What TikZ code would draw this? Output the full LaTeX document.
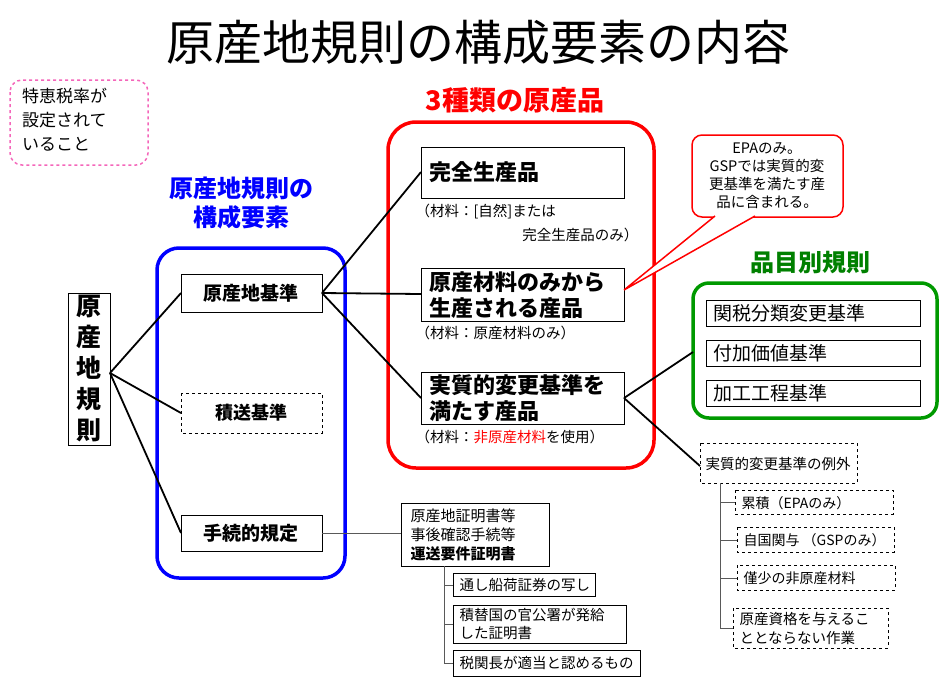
\documentclass[tikz,border=0pt]{standalone}
\usepackage{fontspec}
\setmainfont{Noto Sans CJK JP}
\begin{document}
\begin{tikzpicture}[x=1pt,y=-1pt,
  box/.style={draw,line width=1pt,inner sep=3pt},
  dbox/.style={draw,dashed,line width=0.8pt},
  ln/.style={line width=1.8pt},
  gl/.style={line width=1pt,gray!70!black},
  fs/.style={font=\fontsize{#1}{#1}\selectfont},
  fb/.style={font=\bfseries\fontsize{#1}{#1}\selectfont}]
\useasboundingbox (0,0) rectangle (952,683);
\node[fs=48] (title) at (478,42) {原産地規則の構成要素の内容};
% pink
\draw[magenta!60,dashed,line width=1.5pt,rounded corners=12pt] (10,80) rectangle (148,165);
\node[align=left,anchor=north west,inner sep=0pt,font=\fontsize{17}{24}\selectfont] (pink) at (22,88) {特恵税率が\\設定されて\\いること};
% blue
\node[align=center,text=blue,font=\bfseries\fontsize{24}{29}\selectfont] (bl) at (241,203) {原産地規則の\\構成要素};
\draw[blue,line width=3.5pt,rounded corners=22pt] (157,248) rectangle (345,578);
\draw[line width=1pt] (68,293) rectangle (110,445);
\node[align=center,font=\bfseries\fontsize{25}{31}\selectfont] (rule) at (89,369) {原\\産\\地\\規\\則};
\coordinate (ruleR) at (110,373);
\draw[line width=1pt] (181,274) rectangle (322,312); \node[fb=19] (a1) at (251,293){原産地基準};
\draw[line width=0.8pt,dashed] (181,393) rectangle (322,433); \node[fb=18] (a2) at (251,413){積送基準};
\draw[line width=1pt] (181,515) rectangle (322,551); \node[fb=19] (a3) at (251,533){手続的規定};
\foreach \y in {293,413,533} \draw[ln] (ruleR) -- (181,\y);
% red
\node[text=red,fb=27] (rl) at (515,100) {3種類の原産品};
\draw[red,line width=3.5pt,rounded corners=28pt] (388,122) rectangle (654,468);
\draw[line width=1pt] (421,147) rectangle (624,198);
\node[anchor=west,fb=22] (b1) at (426,172){完全生産品};
\node[anchor=west,fs=14.5] at (412,212){（材料：[自然]または};
\node[anchor=east,fs=14.5] at (642,235){完全生産品のみ）};
\draw[line width=1pt] (421,268) rectangle (624,321);
\node[anchor=west,align=left,font=\bfseries\fontsize{22}{26}\selectfont] (b2) at (426,295){原産材料のみから\\生産される産品};
\node[anchor=west,fs=14.5] at (412,333){（材料：原産材料のみ）};
\draw[line width=1pt] (421,372) rectangle (624,424);
\node[anchor=west,align=left,font=\bfseries\fontsize{22}{26}\selectfont] (b3) at (426,398){実質的変更基準を\\満たす産品};
\node[anchor=west,fs=14.5] at (412,437){（材料：\textcolor{red}{非原産材料}を使用）};
\foreach \y in {172,294,398} \draw[ln] (322,293) -- (421,\y);
% callout
\draw[red,line width=1.5pt,fill=white,rounded corners=10pt] (692,135) rectangle (843,217);
\draw[red,line width=1.5pt,fill=white] (715,216) -- (624,290) -- (755,216);
\node[align=center,font=\fontsize{14.5}{18}\selectfont] (call) at (767,176) {EPAのみ。\\GSPでは実質的変\\更基準を満たす産\\品に含まれる。};
% green
\node[text=green!50!black,fb=24] (gl) at (810,263) {品目別規則};
\draw[green!60!black,line width=3.5pt,rounded corners=16pt] (693,283) rectangle (937,418);
\draw[line width=1pt] (706,300) rectangle (920,326); \node[anchor=west,fs=19] (g1) at (710,313){関税分類変更基準};
\draw[line width=1pt] (706,340) rectangle (920,366); \node[anchor=west,fs=19] (g2) at (710,353){付加価値基準};
\draw[line width=1pt] (706,380) rectangle (920,406); \node[anchor=west,fs=19] (g3) at (710,393){加工工程基準};
\draw[ln] (624,398) -- (693,352);
\draw[ln] (624,398) -- (700,466);
% exceptions
\draw[dbox] (700,443) rectangle (857,483); \node[fs=14.5] (e0) at (778,464){実質的変更基準の例外};
\draw[dbox] (735,490) rectangle (893,514); \node[anchor=west,fs=14] (e1) at (738,503){累積（EPAのみ）};
\draw[dbox] (737,527) rectangle (894,552); \node[anchor=west,fs=14] (e2) at (740,540){自国関与 （GSPのみ）};
\draw[dbox] (737,565) rectangle (895,590); \node[anchor=west,fs=14] (e3) at (740,578){僅少の非原産材料};
\draw[dbox] (733,608) rectangle (888,648); \node[anchor=west,align=left,font=\fontsize{14.5}{19}\selectfont] (e4) at (736,628){原産資格を与えるこ\\ととならない作業};
\draw[gl] (720,483) -- (720,628) -- (733,628);
\foreach \y/\x in {502/735,540/737,578/737} \draw[gl] (720,\y) -- (\x,\y);
% procedures
\draw[gl] (322,533) -- (401,533);
\draw[line width=1pt] (401,503) rectangle (549,566);
\node[anchor=west,align=left,font=\fontsize{15}{19}\selectfont] (p0) at (407,535){原産地証明書等\\事後確認手続等\\\textbf{運送要件証明書}};
\draw[line width=1pt] (453,573) rectangle (595,596); \node[anchor=west,fs=14.5] (p1) at (456,585){通し船荷証券の写し};
\draw[line width=1pt] (453,605) rectangle (626,643); \node[anchor=west,align=left,font=\fontsize{14.5}{18}\selectfont] (p2) at (456,624){積替国の官公署が発給\\した証明書};
\draw[line width=1pt] (453,650) rectangle (640,676); \node[anchor=west,fs=14.5] (p3) at (456,663){税関長が適当と認めるもの};
\draw[gl] (444,566) -- (444,663) -- (453,663);
\foreach \y in {585,624} \draw[gl] (444,\y) -- (453,\y);
\end{tikzpicture}
\end{document}
